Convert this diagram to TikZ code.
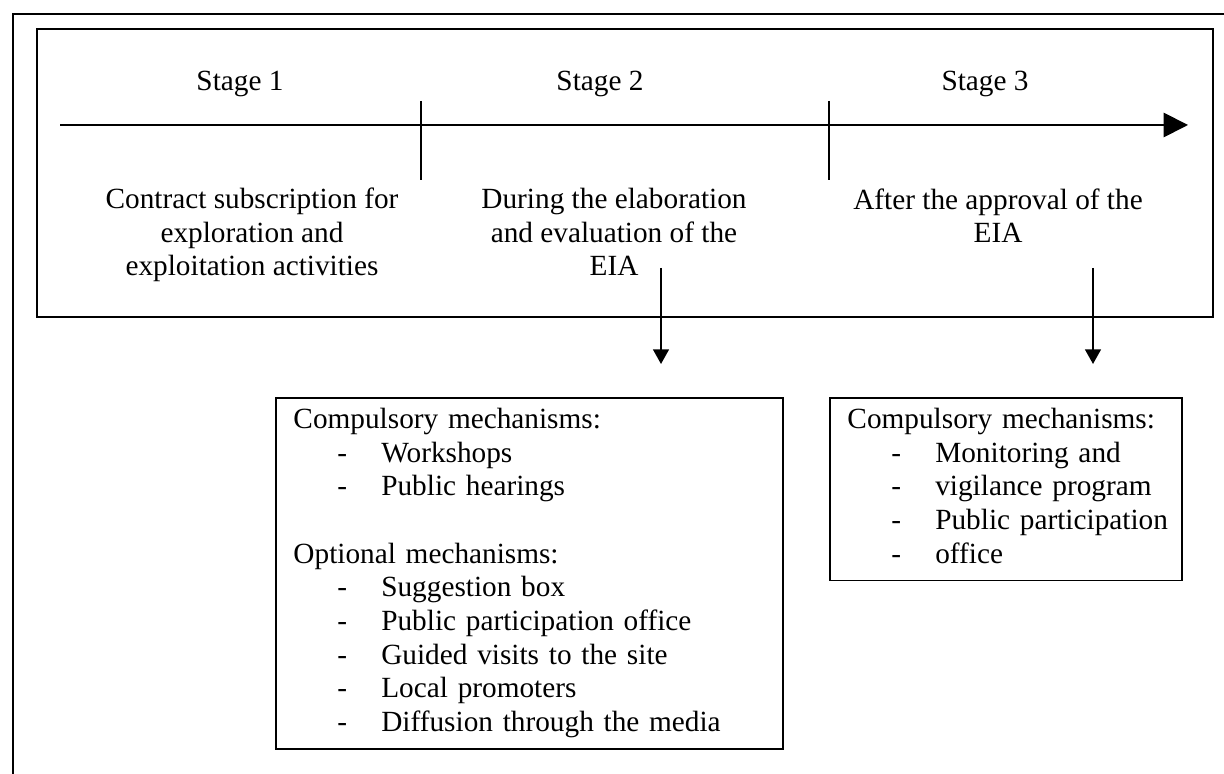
\documentclass[tikz,border=0pt]{standalone}
\usepackage{fontspec}
\setmainfont{Liberation Serif}
\usetikzlibrary{arrows.meta}
\tikzset{
  every node/.style={font=\fontsize{12}{13.8}\selectfont, inner sep=0pt},
  lbl/.style={anchor=base},
  desc/.style={align=center, anchor=base},
  mechbox/.style={draw, line width=0.75pt, anchor=north west, align=left,
    inner xsep=7.2pt, inner ysep=2.9pt, text width=193.5pt},
  timeline/.style={line width=0.75pt, -{Triangle[length=10pt,width=10pt]}},
  down/.style={line width=0.75pt, -{Triangle[length=6pt,width=6.5pt]}},
}
\newcommand{\mitem}[1]{\strut\hspace*{18pt}\makebox[18pt][l]{-}\mbox{#1}}
\begin{document}
\begin{tikzpicture}[x=0.4098pt,y=-0.4098pt]
\useasboundingbox (0,0) rectangle (1224,774);
% frames
\draw[line width=0.75pt] (1224,14) -- (13,14) -- (13,774);
\draw[line width=0.75pt] (37,29) rectangle (1213,317);
% time line
\coordinate (T0) at (60,125);
\coordinate (T1) at (1188,125);
\draw[timeline] (T0) -- (T1);
\coordinate (K1) at (421,101);
\coordinate (K2) at (829,101);
\draw[line width=0.75pt] (K1) -- ++(0,79);
\draw[line width=0.75pt] (K2) -- ++(0,79);
\node[lbl] (S1) at (240,91) {Stage 1};
\node[lbl] (S2) at (600,91) {Stage 2};
\node[lbl] (S3) at (985,91) {Stage 3};
\node[desc] (D1) at (252,276) {Contract subscription for\\exploration and\\exploitation activities};
\node[desc] (D2) at (614,276) {During the elaboration\\and evaluation of the\\EIA};
\node[desc] (D3) at (998,243) {After the approval of the\\EIA};
% mechanisms
\node[mechbox] (B2) at (275,397) {\strut Compulsory mechanisms:\\
\mitem{Workshops}\\
\mitem{Public hearings}\\[13.8pt]
\strut Optional mechanisms:\\
\mitem{Suggestion box}\\
\mitem{Public participation office}\\
\mitem{Guided visits to the site}\\
\mitem{Local promoters}\\
\mitem{Diffusion through the media}};
\node[mechbox, text width=130pt] (B3) at (829,397) {\strut Compulsory mechanisms:\\
\mitem{Monitoring and}\\
\mitem{vigilance program}\\
\mitem{Public participation}\\
\mitem{office}};
\coordinate (A2) at (661,268);
\coordinate (A3) at (1093,268);
\draw[down] (A2) -- (A2 |- 0,364);
\draw[down] (A3) -- (A3 |- 0,364);
\end{tikzpicture}
\end{document}
